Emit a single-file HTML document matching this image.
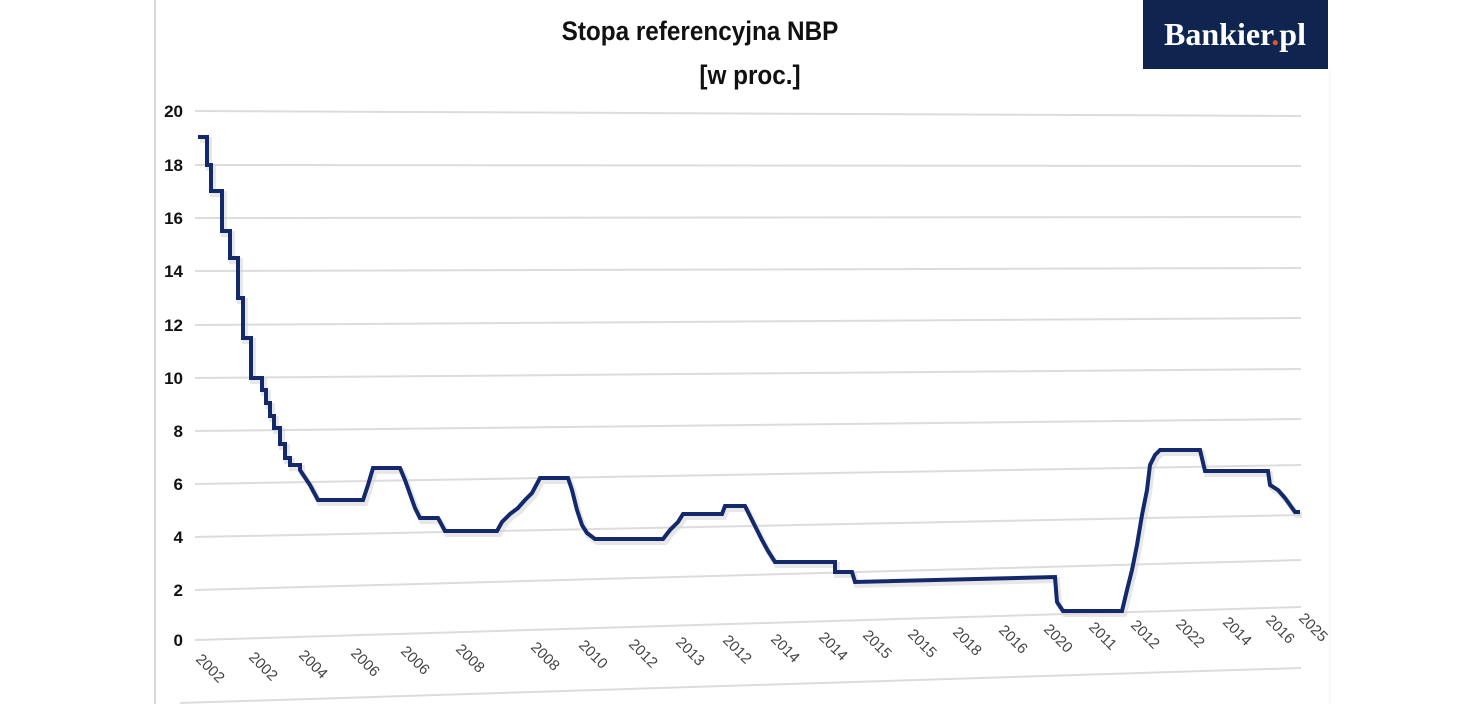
<!DOCTYPE html>
<html><head><meta charset="utf-8"><style>
html,body{margin:0;padding:0;background:#fff;}
body{width:1472px;height:704px;overflow:hidden;position:relative;font-family:"Liberation Sans",sans-serif;}
</style></head><body>
<svg width="1472" height="704" viewBox="0 0 1472 704" xmlns="http://www.w3.org/2000/svg" style="position:absolute;left:0;top:0">
<line x1="155" y1="0" x2="155" y2="704" stroke="#d8d8d8" stroke-width="2"/>
<line x1="1330" y1="70" x2="1330" y2="704" stroke="#f0f0f0" stroke-width="1"/>
<g stroke="#dcdcdc" stroke-width="2" fill="none">
<line x1="195" y1="111" x2="1301" y2="116"/>
<line x1="195" y1="165" x2="1301" y2="166"/>
<line x1="195" y1="218" x2="1301" y2="217"/>
<line x1="195" y1="271" x2="1301" y2="268"/>
<line x1="195" y1="325" x2="1301" y2="318"/>
<line x1="195" y1="378" x2="1301" y2="369"/>
<line x1="195" y1="431" x2="1301" y2="419"/>
<line x1="195" y1="484" x2="1301" y2="465"/>
<line x1="195" y1="537" x2="1301" y2="515"/>
<line x1="195" y1="590" x2="1301" y2="560"/>
<line x1="195" y1="640" x2="1301" y2="607"/>
<line x1="180" y1="703" x2="1301" y2="668"/>
</g>
<g font-size="17" font-weight="bold" fill="#111" text-anchor="end">
<text x="183" y="117">20</text><text x="183" y="171">18</text><text x="183" y="224">16</text>
<text x="183" y="277">14</text><text x="183" y="331">12</text><text x="183" y="384">10</text>
<text x="183" y="437">8</text><text x="183" y="490">6</text><text x="183" y="543">4</text>
<text x="183" y="596">2</text><text x="183" y="646">0</text>
</g>
<text x="700" y="40" font-size="27" font-weight="bold" text-anchor="middle" fill="#111" transform="translate(700,0) scale(0.9,1) translate(-700,0)">Stopa referencyjna NBP</text>
<text x="750" y="84" font-size="27" font-weight="bold" text-anchor="middle" fill="#111" transform="translate(750,0) scale(0.9,1) translate(-750,0)">[w proc.]</text>
<rect x="1143" y="0" width="185" height="69" fill="#0f2550"/>
<text x="1235" y="45" font-family="Liberation Serif,serif" font-weight="bold" font-size="32" fill="#fff" text-anchor="middle">Bankier<tspan fill="#e0552a">.</tspan>pl</text>
<path fill="none" stroke="#cfcfcf" stroke-width="6" opacity="0.5" transform="translate(2,3)" d="M198,137 H207 V165 H211 V191 H222 V231 H230 V258 H238 V298 H243 V338 H251 V378 H262 V390 H266 V403 H270 V416 H274 V428 H280 V444 H285 V458 H290 V465 H300 V470 L310,485 L318,500 H363 L368,485 L373,468 H400 L405,480 L410,494 L415,508 L420,518 H438 L445,531 H497 L502,522 L510,514 L518,508 L525,500 L532,493 L540,478 H568 L572,490 L577,510 L582,525 L587,533 L595,539 H663 L670,530 L678,522 L683,514 H722 L725,506 H745 L752,520 L757,530 L762,540 L768,551 L775,562 H835 V572 H852 L855,582 L1055,577 L1057,602 L1063,611 H1122 L1127,590 L1132,570 L1137,545 L1142,515 L1147,490 L1150,465 L1155,455 L1160,450 H1200 L1205,471 H1268 L1270,485 L1278,490 L1285,498 L1290,505 L1295,512 H1300"/>
<path fill="none" stroke="#13296b" stroke-width="4" stroke-linejoin="miter" d="M198,137 H207 V165 H211 V191 H222 V231 H230 V258 H238 V298 H243 V338 H251 V378 H262 V390 H266 V403 H270 V416 H274 V428 H280 V444 H285 V458 H290 V465 H300 V470 L310,485 L318,500 H363 L368,485 L373,468 H400 L405,480 L410,494 L415,508 L420,518 H438 L445,531 H497 L502,522 L510,514 L518,508 L525,500 L532,493 L540,478 H568 L572,490 L577,510 L582,525 L587,533 L595,539 H663 L670,530 L678,522 L683,514 H722 L725,506 H745 L752,520 L757,530 L762,540 L768,551 L775,562 H835 V572 H852 L855,582 L1055,577 L1057,602 L1063,611 H1122 L1127,590 L1132,570 L1137,545 L1142,515 L1147,490 L1150,465 L1155,455 L1160,450 H1200 L1205,471 H1268 L1270,485 L1278,490 L1285,498 L1290,505 L1295,512 H1300"/>
<g font-size="15" fill="#444">
<text transform="translate(195,660) rotate(45)">2002</text>
<text transform="translate(248,658) rotate(45)">2002</text>
<text transform="translate(298,656) rotate(45)">2004</text>
<text transform="translate(350,654) rotate(45)">2006</text>
<text transform="translate(400,652) rotate(45)">2006</text>
<text transform="translate(455,650) rotate(45)">2008</text>
<text transform="translate(530,648) rotate(45)">2008</text>
<text transform="translate(578,646) rotate(45)">2010</text>
<text transform="translate(628,645) rotate(45)">2012</text>
<text transform="translate(675,643) rotate(45)">2013</text>
<text transform="translate(722,641) rotate(45)">2012</text>
<text transform="translate(770,640) rotate(45)">2014</text>
<text transform="translate(818,638) rotate(45)">2014</text>
<text transform="translate(862,636) rotate(45)">2015</text>
<text transform="translate(907,635) rotate(45)">2015</text>
<text transform="translate(952,633) rotate(45)">2018</text>
<text transform="translate(998,631) rotate(45)">2016</text>
<text transform="translate(1043,630) rotate(45)">2020</text>
<text transform="translate(1088,628) rotate(45)">2011</text>
<text transform="translate(1130,626) rotate(45)">2012</text>
<text transform="translate(1175,625) rotate(45)">2022</text>
<text transform="translate(1222,623) rotate(45)">2014</text>
<text transform="translate(1265,621) rotate(45)">2016</text>
<text transform="translate(1298,619) rotate(45)">2025</text>
</g>
</svg>
</body></html>
